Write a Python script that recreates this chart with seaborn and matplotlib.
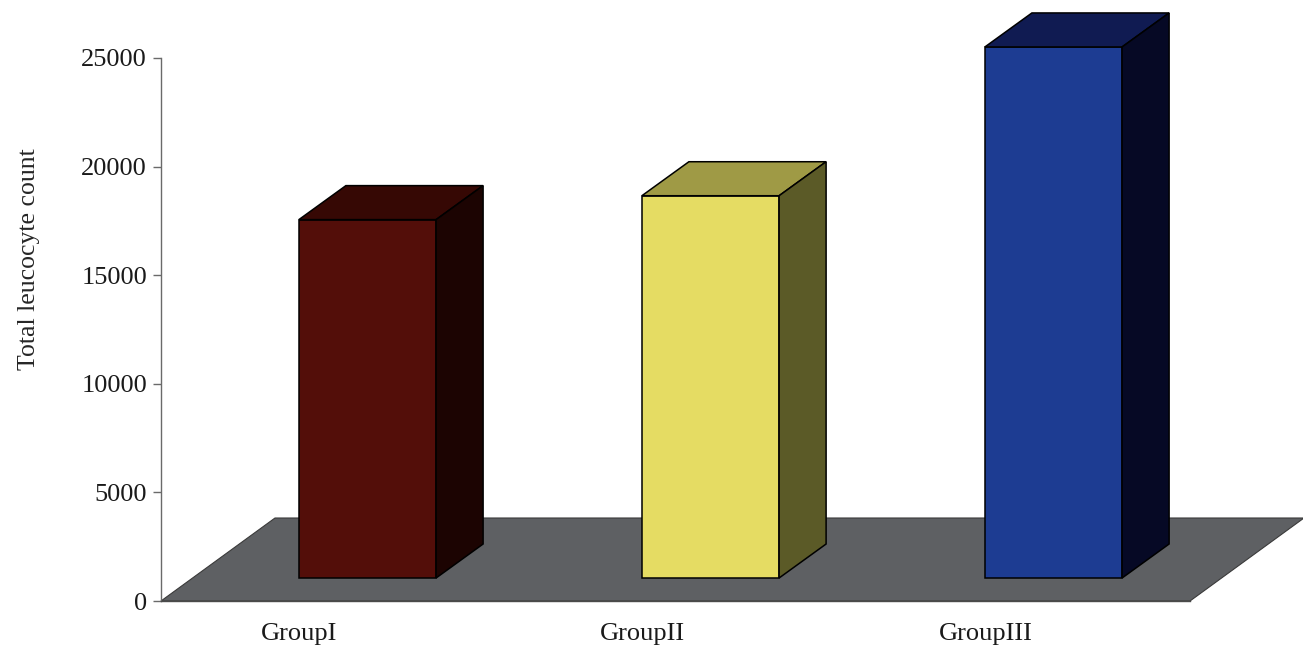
import matplotlib
matplotlib.use("Agg")
import matplotlib.pyplot as plt
from matplotlib.patches import Polygon
from matplotlib.transforms import ScaledTranslation
import seaborn as sns

# Data
groups = ["GroupI", "GroupII", "GroupIII"]
counts = [16500, 17600, 24450]
y_ticks = [0, 5000, 10000, 15000, 20000, 25000]

# Face colours of each column: front, top, side
front_colors = ["#530e09", "#e5dc63", "#1d3c92"]
top_colors = ["#360804", "#9f9a45", "#101b52"]
side_colors = ["#1c0402", "#5b5a27", "#060925"]
floor_color = "#5e6063"

sns.set_style("white")
plt.rcParams["font.family"] = ["Liberation Serif", "DejaVu Serif"]
plt.rcParams["text.color"] = "#1a1a1a"
plt.rcParams["xtick.labelcolor"] = "#1a1a1a"
plt.rcParams["ytick.labelcolor"] = "#1a1a1a"

W, H = 1303, 663
fig = plt.figure(figsize=(W / 100, H / 100), dpi=100)
ax = fig.add_axes([161 / W, 62 / H, 1029 / W, 543 / H])

sns.barplot(x=groups, y=counts, hue=groups, palette=front_colors, width=0.4,
            saturation=1, legend=False, edgecolor="black", linewidth=1.1,
            ax=ax, zorder=3)

ax.set_xlim(-0.5, 2.5)
ax.set_ylim(0, 25000)
ax.set_yticks(y_ticks)
ax.set_yticklabels([str(t) for t in y_ticks])

# Oblique projection offsets (output pixels)
px = fig.dpi / 100.0
FRONT = (35, 23)      # front face of the columns relative to the floor's front edge
DEPTH = (47, 34)      # column depth
FLOOR = (114, 83)     # floor depth


def to_data(x, y, dx=0.0, dy=0.0):
    X, Y = ax.transData.transform((x, y))
    return ax.transData.inverted().transform((X + dx * px, Y + dy * px))


# Floor plane
x0, x1 = ax.get_xlim()
floor_pts = [to_data(x0, 0), to_data(x1, 0),
             to_data(x1, 0, *FLOOR), to_data(x0, 0, *FLOOR)]
ax.add_patch(Polygon(floor_pts, closed=True, facecolor=floor_color,
                     edgecolor="#3a3a3a", linewidth=0.8, zorder=1,
                     clip_on=False))

# Columns: shift the front faces back, then add top and side faces
shift = ScaledTranslation(FRONT[0] / 100, FRONT[1] / 100, fig.dpi_scale_trans)
for i, container in enumerate(ax.containers):
    for bar in container:
        bx, bw, bh = bar.get_x(), bar.get_width(), bar.get_height()
        bar.set_transform(ax.transData + shift)
        bar.set_clip_on(False)
        fx, fy = FRONT
        ddx, ddy = fx + DEPTH[0], fy + DEPTH[1]
        top = [to_data(bx, bh, fx, fy), to_data(bx + bw, bh, fx, fy),
               to_data(bx + bw, bh, ddx, ddy), to_data(bx, bh, ddx, ddy)]
        side = [to_data(bx + bw, bh, fx, fy), to_data(bx + bw, 0, fx, fy),
                to_data(bx + bw, 0, ddx, ddy), to_data(bx + bw, bh, ddx, ddy)]
        ax.add_patch(Polygon(top, closed=True, facecolor=top_colors[i],
                             edgecolor="black", linewidth=1.1, zorder=3,
                             clip_on=False))
        ax.add_patch(Polygon(side, closed=True, facecolor=side_colors[i],
                             edgecolor="black", linewidth=1.1, zorder=3,
                             clip_on=False))

# Axes styling
for s in ("top", "right"):
    ax.spines[s].set_visible(False)
ax.spines["left"].set_color("#6a6a6a")
ax.spines["bottom"].set_color("#4a4a4a")
ax.spines["left"].set_linewidth(1.0)
ax.spines["bottom"].set_linewidth(1.0)

ax.set_xticks([-0.5, 0.5, 1.5, 2.5], minor=True)
ax.tick_params(axis="x", which="major", length=0, pad=16, labelsize=19)
ax.tick_params(axis="x", which="minor", length=9, width=1.0,
               color="#6a6a6a", direction="out")
ax.tick_params(axis="y", length=6, width=1.0, color="#6a6a6a",
               direction="out", pad=4, labelsize=19, left=True)

label_shift = ScaledTranslation(-0.33, 0, fig.dpi_scale_trans)
for lab in ax.get_xticklabels():
    lab.set_transform(lab.get_transform() + label_shift)

ax.set_xlabel("")
ax.set_ylabel("Total leucocyte count", fontsize=18.5)
ax.yaxis.set_label_coords(-0.118, 0.63)

fig.savefig("out.png", dpi=100, facecolor="white")
